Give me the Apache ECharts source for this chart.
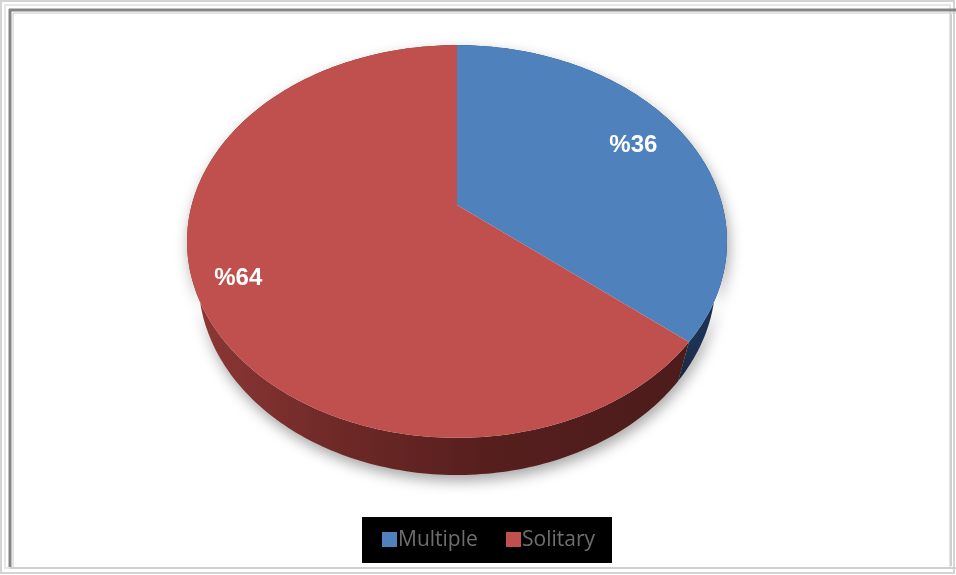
<!DOCTYPE html>
<html>
<head>
<meta charset="utf-8">
<script src="https://cdn.jsdelivr.net/npm/echarts@6/dist/echarts.min.js"></script>
<style>
html,body{margin:0;padding:0;background:#fff;}
#chart{width:956px;height:575px;}
</style>
</head>
<body>
<div id="chart"></div>
<script>
// ---- data ----
const categories = ['Multiple', 'Solitary'];
const values = [36, 64];

// ---- styles ----
const topColors = ['#4F81BD', '#C0504D'];
const sideStops = [
  [{offset: 0, color: '#2c4c78'}, {offset: 1, color: '#1b3150'}],
  [{offset: 0, color: '#8e3836'}, {offset: 0.3, color: '#6c2826'}, {offset: 0.55, color: '#561f1e'}, {offset: 1, color: '#4a1b1a'}]
];
const labelRadius = [0.78, 0.85];

// projection of a tilted disc (perspective)
const CX = 457, CY = 205, F = 998.5, D = 1, R = 0.2657, T = 0.0598;
const ALPHA = 45.6 * Math.PI / 180;
const SA = Math.sin(ALPHA), CA = Math.cos(ALPHA);
function proj(phi, r, h) {
  const x = r * Math.sin(phi), z = -r * Math.cos(phi);
  const d = D - h * SA - z * CA;
  const up = h * CA - z * SA;
  return [CX + F * x / d, CY - F * up / d];
}
const total = values.reduce((a, b) => a + b, 0);
function angles(i) {
  let s = 0;
  for (let k = 0; k < i; k++) s += values[k];
  return [s / total * 2 * Math.PI, (s + values[i]) / total * 2 * Math.PI];
}
function arcPts(a1, a2, r, h) {
  const pts = [];
  const n = Math.max(2, Math.ceil((a2 - a1) / (Math.PI / 180)));
  for (let j = 0; j <= n; j++) pts.push(proj(a1 + (a2 - a1) * j / n, r, h));
  return pts;
}

function renderSide(params, api) {
  const i = params.dataIndex;
  const [a1, a2] = angles(i);
  const top = arcPts(a1, a2, R, 0);
  const bot = arcPts(a1, a2, R, -T).reverse();
  return {
    type: 'polygon',
    shape: {points: top.concat(bot)},
    style: {
      fill: new echarts.graphic.LinearGradient(187, 0, 727, 0, sideStops[i], true),
      shadowBlur: 14, shadowOffsetY: 6, shadowOffsetX: 2,
      shadowColor: 'rgba(0,0,0,0.35)'
    }
  };
}

function renderTop(params, api) {
  const i = params.dataIndex;
  const [a1, a2] = angles(i);
  const pts = [proj(0, 0, 0)].concat(arcPts(a1, a2, R, 0));
  const mid = (a1 + a2) / 2;
  const lp = proj(mid, R * labelRadius[i], 0);
  return {
    type: 'group',
    children: [
      {type: 'polygon', shape: {points: pts}, style: {fill: topColors[i]}},
      {type: 'text', z2: 10, style: {
        text: '%' + api.value(0), x: lp[0], y: lp[1],
        align: 'center', verticalAlign: 'middle',
        fill: '#ffffff', fontSize: 24, fontWeight: 'bold',
        fontFamily: '"Liberation Sans", Arial, sans-serif'
      }}
    ]
  };
}

// legend graphics built from categories
const legendChildren = [
  {type: 'rect', shape: {x: 362, y: 517, width: 250, height: 46}, style: {fill: '#000'}}
];
const legendX = [382, 506];
categories.forEach((c, i) => {
  legendChildren.push({type: 'rect', shape: {x: legendX[i], y: 532, width: 15, height: 15}, style: {fill: topColors[i]}});
  legendChildren.push({type: 'text', style: {
    text: c, x: legendX[i] + 16, y: 540, verticalAlign: 'middle',
    fill: '#6e6e6e', fontSize: 21, fontFamily: '"Open Sans", Lato, sans-serif'
  }});
});

const chart = echarts.init(document.getElementById('chart'), null, {renderer: 'canvas'});
chart.setOption({
  backgroundColor: '#ffffff',
  animation: false,
  graphic: [
    // frame
    {type: 'rect', z: 0, shape: {x: 1, y: 1, width: 953, height: 572}, style: {fill: 'none', stroke: '#d4d4d4', lineWidth: 2}},
    {type: 'rect', z: 0, shape: {x: 5, y: 5, width: 945, height: 563}, style: {fill: 'none', stroke: '#e6e6e6', lineWidth: 2}},
    {type: 'line', z: 0, shape: {x1: 9, y1: 10, x2: 956, y2: 10}, style: {stroke: '#858585', lineWidth: 3}},
    {type: 'line', z: 0, shape: {x1: 10, y1: 9, x2: 10, y2: 567}, style: {stroke: '#858585', lineWidth: 3}},
    {type: 'line', z: 0, shape: {x1: 13, y1: 13, x2: 956, y2: 13}, style: {stroke: '#c8c8c8', lineWidth: 1}},
    {type: 'line', z: 0, shape: {x1: 13, y1: 13, x2: 13, y2: 567}, style: {stroke: '#c8c8c8', lineWidth: 1}},
    {type: 'line', z: 0, shape: {x1: 951, y1: 14, x2: 951, y2: 566}, style: {stroke: '#cfcfcf', lineWidth: 2}},
    {type: 'line', z: 0, shape: {x1: 10, y1: 568, x2: 956, y2: 568}, style: {stroke: '#cfcfcf', lineWidth: 2}},
    {type: 'group', z: 5, children: legendChildren}
  ],
  series: [
    {type: 'custom', name: 'side', coordinateSystem: 'none', z: 1, silent: true,
     renderItem: renderSide, data: values.map(v => [v])},
    {type: 'custom', name: 'top', coordinateSystem: 'none', z: 2, silent: true,
     renderItem: renderTop, data: values.map(v => [v])}
  ]
});
</script>
</body>
</html>
